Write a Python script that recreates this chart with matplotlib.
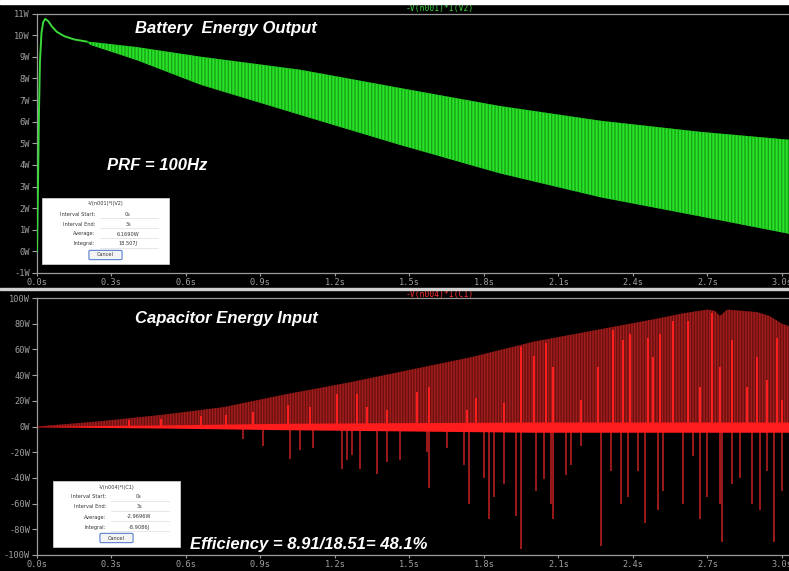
import matplotlib
matplotlib.use("Agg")
import matplotlib.pyplot as plt
from matplotlib.patches import Rectangle, FancyBboxPatch

W, H = 789, 571

# ---------------- data ----------------
x_ticks = [0.0, 0.3, 0.6, 0.9, 1.2, 1.5, 1.8, 2.1, 2.4, 2.7, 3.0]
x_labels = ["0.0s", "0.3s", "0.6s", "0.9s", "1.2s", "1.5s", "1.8s", "2.1s", "2.4s", "2.7s", "3.0s"]
top_yticks = [11, 10, 9, 8, 7, 6, 5, 4, 3, 2, 1, 0, -1]
top_ylabels = ["11W", "10W", "9W", "8W", "7W", "6W", "5W", "4W", "3W", "2W", "1W", "0W", "-1W"]
bot_yticks = [100, 80, 60, 40, 20, 0, -20, -40, -60, -80, -100]
bot_ylabels = ["100W", "80W", "60W", "40W", "20W", "0W", "-20W", "-40W", "-60W", "-80W", "-100W"]

# battery power: start-up curve
g_t = [0, 0.004, 0.008, 0.012, 0.018, 0.025, 0.033, 0.045, 0.06, 0.08, 0.11, 0.15, 0.2]
g_p = [0, 3, 6.5, 8.8, 10.1, 10.6, 10.75, 10.65, 10.4, 10.15, 9.95, 9.8, 9.7]
# battery power: oscillation envelope
band_t = [0.2, 0.215, 0.4, 0.66, 1.06, 1.46, 1.86, 2.27, 2.67, 3.03]
band_hi = [9.7, 9.69, 9.45, 9.0, 8.4, 7.56, 6.73, 6.04, 5.53, 5.16]
band_lo = [9.7, 9.55, 8.85, 7.70, 6.31, 4.93, 3.62, 2.50, 1.62, 0.81]

# capacitor power: upper envelope of pulses
r_t = [0, 0.25, 0.5, 0.75, 1.0, 1.25, 1.5, 1.75, 2.0, 2.25, 2.5, 2.6, 2.7, 2.73, 2.75, 2.78, 2.9, 2.95, 3.0, 3.03]
r_hi = [0, 4, 9, 15, 25, 34, 44, 54, 66, 75, 84, 88, 91, 90, 86, 91, 89, 86, 80, 78]
# capacitor power: bright core around zero
core_t = [0, 0.5, 1.0, 1.5, 2.0, 2.5, 3.03]
core_hi = [0.3, 1.2, 2.5, 3, 3.5, 3.5, 3.5]
core_lo = [-0.3, -1.2, -2.5, -3.5, -4.5, -4.5, -4.5]
# bright positive pulses
pos_t = [0.37, 0.50, 0.66, 0.76, 0.87, 1.01, 1.10, 1.21, 1.29, 1.33, 1.41, 1.53, 1.58, 1.73, 1.77,
         1.88, 1.95, 2.00, 2.05, 2.08, 2.19, 2.26, 2.32, 2.36, 2.39, 2.46, 2.48, 2.51, 2.56, 2.62,
         2.67, 2.72, 2.75, 2.80, 2.86, 2.90, 2.94, 2.98, 3.00]
pos_v = [5, 6, 8, 9, 11.5, 17, 15, 25, 25, 15, 13, 27, 31, 13, 22,
         18, 62, 55, 65, 46, 21, 46, 75, 67, 72, 69, 54, 72, 82, 82,
         31, 88, 46, 67, 31, 54, 36, 69, 21]
# negative pulses
neg_t = [0.83, 0.91, 1.02, 1.06, 1.11, 1.23, 1.25, 1.27, 1.30, 1.37, 1.41, 1.46, 1.57, 1.58, 1.65,
         1.72, 1.74, 1.80, 1.82, 1.84, 1.88, 1.93, 1.95, 2.01, 2.04, 2.07, 2.08, 2.13, 2.15, 2.19,
         2.27, 2.31, 2.35, 2.38, 2.42, 2.45, 2.50, 2.52, 2.60, 2.64, 2.67, 2.70, 2.75, 2.76, 2.80,
         2.83, 2.88, 2.91, 2.94, 2.97, 3.00]
neg_v = [-10, -15, -25, -18, -17, -33, -26, -22, -33, -37, -28, -26, -20, -48, -17,
         -30, -60, -40, -72, -55, -45, -70, -95, -50, -41, -60, -72, -38, -30, -15,
         -93, -35, -60, -55, -35, -75, -65, -50, -60, -23, -72, -55, -60, -90, -45,
         -40, -60, -65, -35, -90, -50]

# ---------------- figure ----------------
fig = plt.figure(figsize=(W / 100, H / 100), dpi=100, facecolor="black")


def fr(x0, y0, x1, y1):
    return [x0 / W, 1 - y1 / H, (x1 - x0) / W, (y1 - y0) / H]


ax1 = fig.add_axes(fr(37, 13.5, W, 273))
ax2 = fig.add_axes(fr(37, 298, W, 555))
xmax = (W - 37) / 248.3

mono = "DejaVu Sans Mono"
for ax, yt, yl, ylim in [(ax1, top_yticks, top_ylabels, (-1, 11)),
                         (ax2, bot_yticks, bot_ylabels, (-100, 100))]:
    ax.set_facecolor("black")
    ax.set_xlim(0, xmax)
    ax.set_ylim(*ylim)
    ax.set_xticks(x_ticks)
    ax.set_xticklabels(x_labels, fontfamily=mono, fontsize=6.2, color="#b8b8b8")
    ax.set_yticks(yt)
    ax.set_yticklabels(yl, fontfamily=mono, fontsize=6.2, color="#b8b8b8")
    ax.tick_params(axis="y", colors="#a0a0a0", length=3.5, width=0.8, pad=1.5)
    ax.tick_params(axis="x", colors="#a0a0a0", length=2.5, width=0.8, pad=0.8)
    for s in ["left", "bottom", "top"]:
        ax.spines[s].set_color("#9a9a9a")
        ax.spines[s].set_linewidth(0.9)
    ax.spines["right"].set_visible(False)

# battery trace
ax1.plot(g_t, g_p, color="#3ad83a", lw=1.4, zorder=3)
ax1.fill_between(band_t, band_lo, band_hi, facecolor="#2ae22a", edgecolor="#15a515",
                 hatch="|||||", linewidth=0, zorder=2)

# capacitor trace
ax2.fill_between(r_t, 0, r_hi, facecolor="#6a1010", edgecolor="#a41d1d",
                 hatch="||||||", linewidth=0, zorder=2)
ax2.vlines(neg_t, 0, neg_v, color="#c42020", lw=1.1, zorder=3)
ax2.vlines(pos_t, 0, pos_v, color="#ff2020", lw=1.4, zorder=4)
ax2.fill_between(core_t, core_lo, core_hi, color="#ff1c1c", linewidth=0, zorder=5)

# frame decorations
fig.add_artist(Rectangle((0, 1 - 4 / H), 1, 4 / H, transform=fig.transFigure,
                         color="white", zorder=20))
fig.add_artist(Rectangle((0, 1 - 290 / H), 1, 2.2 / H, transform=fig.transFigure,
                         color="#d0d0d0", zorder=20))

fig.text(440 / W, 1 - 8 / H, "-V(n001)*I(V2)", color="#3cd43c", fontfamily=mono,
         fontsize=5.8, ha="center", va="center")
fig.text(440 / W, 1 - 294 / H, "-V(n004)*I(C1)", color="#ff3030", fontfamily=mono,
         fontsize=5.8, ha="center", va="center")

title_kw = dict(color="white", fontfamily="Liberation Sans", fontweight="bold",
                fontstyle="italic", fontsize=12, ha="left", va="center", zorder=30)
fig.text(135 / W, 1 - 28 / H, "Battery  Energy Output", **title_kw)
fig.text(107 / W, 1 - 166 / H, "PRF = 100Hz", **title_kw)
fig.text(135 / W, 1 - 318 / H, "Capacitor Energy Input", **title_kw)
fig.text(190 / W, 1 - 545 / H, "Efficiency = 8.91/18.51= 48.1%", **title_kw)


def dialog(x0, y0, title, rows):
    bw, bh = 127, 66
    fig.add_artist(Rectangle((x0 / W, 1 - (y0 + bh) / H), bw / W, bh / H,
                             transform=fig.transFigure, facecolor="white",
                             edgecolor="#cccccc", lw=0.6, zorder=40))
    tk = dict(fontsize=3.6, color="#333333", zorder=41, va="center",
              fontfamily="DejaVu Sans")
    fig.text((x0 + bw / 2) / W, 1 - (y0 + 6) / H, title, ha="center", **tk)
    for i, (lab, val) in enumerate(rows):
        yy = y0 + 16 + i * 10
        fig.text((x0 + 53) / W, 1 - yy / H, lab, ha="right", **tk)
        fig.text((x0 + 86) / W, 1 - yy / H, val, ha="center", **tk)
        fig.add_artist(plt.Line2D([(x0 + 58) / W, (x0 + 116) / W],
                                  [1 - (yy + 4) / H, 1 - (yy + 4) / H],
                                  transform=fig.transFigure, color="#dddddd",
                                  lw=0.5, zorder=41))
    cx, cy = x0 + bw / 2, y0 + 57
    fig.add_artist(FancyBboxPatch(((cx - 15) / W, 1 - (cy + 3.5) / H), 30 / W, 7 / H,
                                  boxstyle="round,pad=0.002", transform=fig.transFigure,
                                  facecolor="#f4f4f4", edgecolor="#5a7fd0", lw=0.8,
                                  zorder=41))
    fig.text(cx / W, 1 - cy / H, "Cancel", ha="center", **tk)


dialog(42, 198, "-V(n001)*I(V2)",
       [("Interval Start:", "0s"), ("Interval End:", "3s"),
        ("Average:", "6.1690W"), ("Integral:", "18.507J")])
dialog(53, 481, "-V(n004)*I(C1)",
       [("Interval Start:", "0s"), ("Interval End:", "3s"),
        ("Average:", "-2.9696W"), ("Integral:", "-8.9086J")])

fig.savefig("out.png", dpi=100, facecolor="black")
